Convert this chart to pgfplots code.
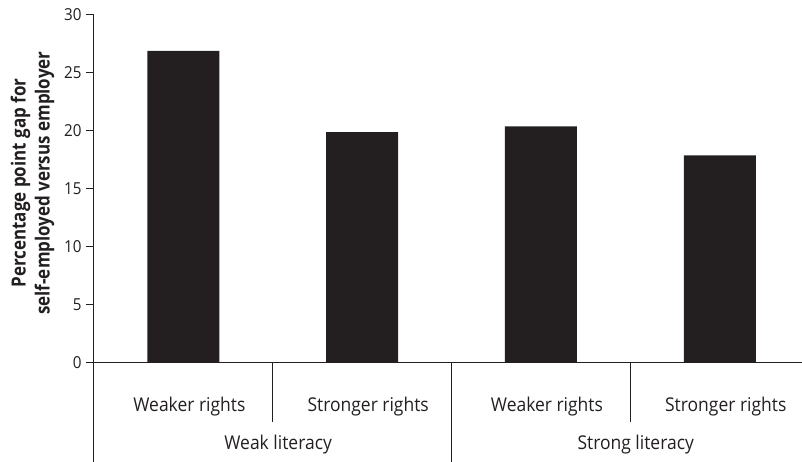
\documentclass[border=0pt]{standalone}
\usepackage{fontspec}
\setmainfont{Open Sans}[FakeStretch=0.92, BoldFeatures={FakeStretch=0.87}]
\usepackage{pgfplots}
\pgfplotsset{compat=1.18}
\usetikzlibrary{calc}
\definecolor{ink}{HTML}{231F20}
\begin{document}
\begin{tikzpicture}[font=\fontsize{19bp}{22bp}\selectfont, color=ink]
\begin{axis}[
  scale only axis,
  width=708bp, height=348bp,
  xmin=-0.5, xmax=3.46,
  ymin=0, ymax=30,
  ytick={0,5,...,30},
  xtick={0,1,2,3},
  xticklabels={Weaker rights,Stronger rights,Weaker rights,Stronger rights},
  axis x line=bottom,
  axis y line=left,
  axis line style={-, ink, line width=1bp},
  x axis line style={-},
  y axis line style={-},
  every tick/.style={ink, line width=1bp},
  ytick style={ink},
  xtick style={draw=none},
  tick align=outside,
  major tick length=8bp,
  /pgf/number format/assume math mode=true,
  xticklabel style={anchor=base, yshift=-41bp, xshift=6bp, font=\fontsize{19bp}{22bp}\selectfont},
  yticklabel style={font=\fontsize{16.5bp}{18bp}\selectfont, xshift=-1bp},
  ylabel={Percentage point gap for\\self-employed versus employer},
  ylabel style={anchor=center, align=center, font=\fontsize{19.5bp}{24bp}\selectfont\bfseries, at={(axis description cs:-0.087,0.517)}},
  clip=false,
  ybar,
  bar width=72bp,
]
\addplot[fill=ink, draw=none] coordinates {(0,26.9) (1,19.9) (2,20.4) (3,17.9)};
\draw[ink, line width=1bp] (axis cs:-0.5,0) -- (axis cs:-0.5,-8.6);
\draw[ink, line width=1bp] (axis cs:1.5,0) -- (axis cs:1.5,-8.6);
\draw[ink, line width=1bp] (axis cs:0.5,0) -- (axis cs:0.5,-5.1);
\draw[ink, line width=1bp] (axis cs:2.5,0) -- (axis cs:2.5,-5.1);
\node[ink, anchor=base] at (axis cs:0.53,-7.5) {Weak literacy};
\node[ink, anchor=base] at (axis cs:2.53,-7.5) {Strong literacy};
\coordinate (bl) at (axis cs:-0.5,-8.53);
\coordinate (tr) at (axis cs:3.46,30);
\end{axis}
\pgfresetboundingbox
\path ($(bl)+(-94bp,0)$) rectangle ($(tr)+(0,15bp)$);
\end{tikzpicture}
\end{document}
